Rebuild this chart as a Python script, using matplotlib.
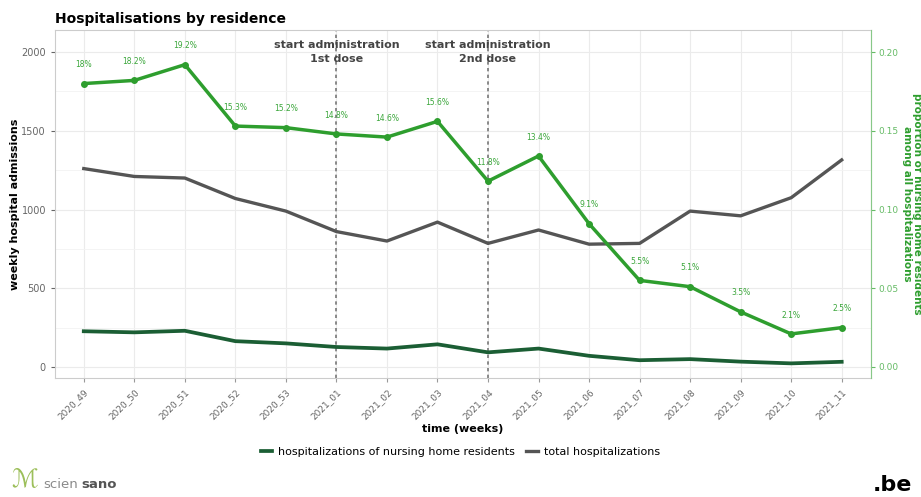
import matplotlib.pyplot as plt
from matplotlib.ticker import MultipleLocator, FormatStrFormatter

# datos
semanas = ['2020_49', '2020_50', '2020_51', '2020_52', '2020_53', '2021_01', '2021_02', '2021_03',
           '2021_04', '2021_05', '2021_06', '2021_07', '2021_08', '2021_09', '2021_10', '2021_11']
total = [1260, 1210, 1200, 1070, 990, 860, 800, 920, 785, 870, 780, 785, 990, 960, 1075, 1315]
residencias = [227, 220, 230, 164, 150, 127, 117, 144, 93, 117, 71, 43, 50, 34, 23, 33]
proporcion = [0.180, 0.182, 0.192, 0.153, 0.152, 0.148, 0.146, 0.156, 0.118, 0.134,
              0.091, 0.055, 0.051, 0.035, 0.021, 0.025]
etiquetas = ['18%', '18.2%', '19.2%', '15.3%', '15.2%', '14.8%', '14.6%', '15.6%', '11.8%', '13.4%',
             '9.1%', '5.5%', '5.1%', '3.5%', '2.1%', '2.5%']
vacunas = ['2021_01', '2021_04']
textos_vacunas = ['start administration\n1st dose', 'start administration\n2nd dose']

verde = '#2e9e2e'
verde_osc = '#1b5e34'
gris = '#555555'

fig = plt.figure(figsize=(9.21, 4.97), dpi=100)
ax = fig.add_axes([0.0597, 0.2394, 0.886, 0.7002])
x = list(range(len(semanas)))

ax.plot(x, total, color=gris, lw=2.4, label='total hospitalizations', zorder=3)
ax.plot(x, residencias, color=verde_osc, lw=2.7, label='hospitalizations of nursing home residents', zorder=3)

ax.set_xlim(-0.57, 15.58)
ax.set_ylim(-70, 2140)
ax.yaxis.set_major_locator(MultipleLocator(500))
ax.yaxis.set_minor_locator(MultipleLocator(250))
ax.set_xticks(x)
ax.set_xticklabels(semanas, rotation=45, ha='right', rotation_mode='anchor', fontsize=6.5, color='#666666')
ax.tick_params(axis='y', labelsize=7, colors='#666666', length=3)
ax.tick_params(axis='x', length=3, colors='#999999', labelcolor='#666666')
ax.tick_params(which='minor', length=0)
ax.grid(which='major', color='#ebebeb', lw=0.8)
ax.grid(which='minor', color='#f3f3f3', lw=0.6)
ax.set_axisbelow(True)
for s in ax.spines.values():
    s.set_color('#cccccc')
    s.set_linewidth(0.8)

ax.set_ylabel('weekly hospital admissions', fontsize=8, fontweight='bold', labelpad=1)
ax.set_xlabel('time (weeks)', fontsize=8, fontweight='bold', labelpad=2)

# lineas de vacunacion
for sem, txt in zip(vacunas, textos_vacunas):
    i = semanas.index(sem)
    ax.axvline(i, color='#777777', ls=(0, (2, 2)), lw=1.2, zorder=2)
    ax.text(i, 2000, txt, ha='center', va='center', fontsize=8, fontweight='bold',
            color='#444444', linespacing=1.5, zorder=4)

# eje derecho con proporcion
ax2 = ax.twinx()
ax2.plot(x, proporcion, color=verde, lw=2.5, marker='o', ms=4, zorder=3)
for xi, p, et in zip(x, proporcion, etiquetas):
    ax2.text(xi, p + 0.012, et, ha='center', va='center', fontsize=5.5, color='#3aa63a')
ax2.set_ylim(-0.007, 0.214)
ax2.yaxis.set_major_locator(MultipleLocator(0.05))
ax2.yaxis.set_major_formatter(FormatStrFormatter('%.2f'))
ax2.tick_params(axis='y', labelsize=6.5, colors='#66bb66', length=3, pad=2)
ax2.spines['right'].set_color('#88c888')
for s in ['left', 'top', 'bottom']:
    ax2.spines[s].set_visible(False)
ax2.set_ylabel('proportion of nursing home residents\namong all hospitalizations', fontsize=7.5,
               fontweight='bold', color=verde, rotation=-90, va='bottom', labelpad=3, linespacing=1.0)

fig.text(0.0597, 0.962, 'Hospitalisations by residence', fontsize=10, fontweight='bold', va='center')

h1, l1 = ax.get_legend_handles_labels()
fig.legend([h1[1], h1[0]], [l1[1], l1[0]], loc='center', bbox_to_anchor=(0.5, 0.09), ncol=2,
           frameon=False, fontsize=8, handlelength=1.0, columnspacing=1.0, handletextpad=0.6)

# logos
fig.text(0.012, 0.01, '\u2133', fontsize=18, color='#9cbf5a', va='bottom', style='italic')
fig.text(0.047, 0.012, 'scien', fontsize=9.5, color='#8a8a8a', va='bottom')
fig.text(0.0885, 0.012, 'sano', fontsize=9.5, color='#555555', va='bottom', fontweight='bold')
fig.text(0.99, 0.005, '.be', fontsize=16, color='black', va='bottom', ha='right', fontweight='bold')

fig.savefig('out.png', dpi=100)
